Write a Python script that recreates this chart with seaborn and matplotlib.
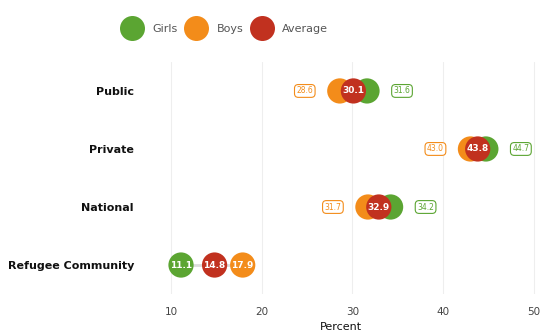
import matplotlib
matplotlib.use("Agg")
import matplotlib.pyplot as plt
from matplotlib.lines import Line2D
import seaborn as sns
import pandas as pd

# Enrolment share by school type (percent)
categories = ["Public", "Private", "National", "Refugee Community"]
girls = [31.6, 44.7, 34.2, 11.1]
boys = [28.6, 43.0, 31.7, 17.9]
average = [30.1, 43.8, 32.9, 14.8]
x_ticks = [10, 20, 30, 40, 50]

GREEN = "#5BA532"
ORANGE = "#F38C1A"
RED = "#C1311F"
palette = {"Girls": GREEN, "Boys": ORANGE, "Average": RED}

sns.set_theme(style="white")
plt.rcParams["font.family"] = ["DejaVu Sans"]

# long table: boys first, girls next, average drawn on top
rows = []
for series, vals in (("Boys", boys), ("Girls", girls), ("Average", average)):
    for cat, v in zip(categories, vals):
        rows.append({"category": cat, "series": series, "value": v,
                     "pos": categories.index(cat)})
df = pd.DataFrame(rows)

fig = plt.figure(figsize=(5.4, 3.33), dpi=100)
ax = fig.add_axes([0.2685, 0.117, 0.725, 0.697])

# thin connector between the lowest and highest value of each row
for i, cat in enumerate(categories):
    lo = min(girls[i], boys[i], average[i])
    hi = max(girls[i], boys[i], average[i])
    ax.hlines(i, lo, hi, color="#dddddd", lw=2, zorder=1)

sns.scatterplot(data=df, x="value", y="pos", hue="series", palette=palette,
                s=330, linewidth=0, legend=False, ax=ax, zorder=3)

for i, cat in enumerate(categories):
    spread = max(girls[i], boys[i]) - min(girls[i], boys[i])
    # average always sits inside its own dot
    ax.text(average[i], i, f"{average[i]:.1f}", ha="center", va="center",
            color="white", fontsize=6.5, fontweight="bold", zorder=5)
    if spread > 5:
        for v in (girls[i], boys[i]):
            ax.text(v, i, f"{v:.1f}", ha="center", va="center",
                    color="white", fontsize=6.5, fontweight="bold", zorder=5)
    else:
        left_v, left_c = (boys[i], ORANGE) if boys[i] <= girls[i] else (girls[i], GREEN)
        right_v, right_c = (girls[i], GREEN) if boys[i] <= girls[i] else (boys[i], ORANGE)
        for v, c, dx in ((left_v, left_c, -35), (right_v, right_c, 35)):
            ax.annotate(f"{v:.1f}", xy=(v, i), xytext=(dx, 0),
                        textcoords="offset pixels", ha="center", va="center",
                        color=c, fontsize=5.5, zorder=5,
                        bbox=dict(boxstyle="round,pad=0.25,rounding_size=0.5",
                                  fc="white", ec=c, lw=0.8))

ax.set_xlim(7.13, 50.28)
ax.set_ylim(3.5, -0.5)
ax.set_xticks(x_ticks)
ax.set_xticklabels([str(t) for t in x_ticks])
ax.set_yticks(range(len(categories)))
ax.set_yticklabels(categories, fontweight="bold", fontsize=8, color="#111111")
ax.tick_params(axis="x", length=0, pad=9, labelsize=7.5, labelcolor="#444444")
ax.tick_params(axis="y", length=0, pad=8)
ax.grid(axis="x", color="#eeeeee", lw=0.8)
ax.grid(axis="y", visible=False)
ax.set_axisbelow(True)
for sp in ax.spines.values():
    sp.set_visible(False)
ax.set_xlabel("Percent", fontsize=8, color="#111111", labelpad=4)
ax.set_ylabel("")

handles = [Line2D([0], [0], marker="o", ls="", markersize=18, markerfacecolor=palette[k],
                  markeredgewidth=0, label=k) for k in ("Girls", "Boys", "Average")]
fig.legend(handles=handles, loc="center", bbox_to_anchor=(0.419, 0.912), ncol=3,
           frameon=False, fontsize=8, handletextpad=1.1, columnspacing=1.0,
           labelcolor="#555555", handlelength=1.4)

fig.savefig("out.png", dpi=100)
